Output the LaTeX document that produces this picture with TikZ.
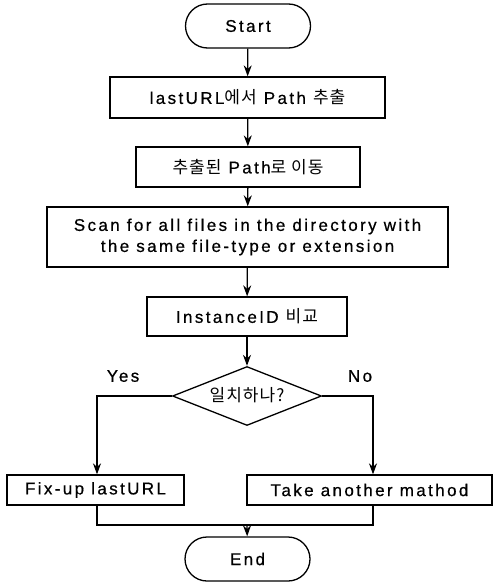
\documentclass[tikz,border=0pt]{standalone}
\usepackage{fontspec}
\setmainfont{Liberation Sans}[LetterSpace=14,FakeBold=0.6]
\newfontfamily\kr{Noto Sans CJK KR}[LetterSpace=6]
\usetikzlibrary{shapes.geometric,shapes.misc,arrows.meta}
\begin{document}
\begin{tikzpicture}[x=1pt,y=-1pt,
  line width=1.3pt,
  every node/.style={font=\fontsize{17}{21}\selectfont},
  box/.style={draw,rectangle,inner sep=0pt,align=center},
  term/.style={draw,rounded rectangle,inner sep=0pt,minimum width=125pt,minimum height=44pt},
  dec/.style={draw,diamond,inner sep=0pt,minimum width=149pt,minimum height=59pt,aspect=2.5},
  arr/.style={-{Stealth[length=11pt,width=8pt]}},
  lbl/.style={inner sep=0pt}]
\useasboundingbox (0,0) rectangle (493,583);
\node[term] (start) at (248,26) {Start};
\node[box,minimum width=275pt,minimum height=41pt] (b1) at (247.5,97.5) {lastURL{\kr 에서} Path {\kr 추출}};
\node[box,minimum width=224pt,minimum height=40pt] (b2) at (248,167) {{\kr 추출된} Path{\kr 로 이동}};
\node[box,minimum width=401pt,minimum height=60pt] (b3) at (247.5,237) {Scan for all files in the directory with\\the same file-type or extension};
\node[box,minimum width=200pt,minimum height=39pt] (b4) at (247,316.5) {InstanceID {\kr 비교}};
\node[dec] (d) at (247,396) {\raisebox{3pt}{\kr 일치하나?}};
\node[box,minimum width=177pt,minimum height=30pt] (b5) at (95.5,490) {Fix-up lastURL};
\node[box,minimum width=245pt,minimum height=30pt] (b6) at (369.5,490) {Take another mathod};
\node[term] (end) at (247.5,559) {End};
\node[lbl] (yes) at (123,376) {Yes};
\node[lbl] (no) at (360,376) {No};
\coordinate (m) at (247,525);
\draw[arr] (start) -- (b1);
\draw[arr] (b1) -- (b2);
\draw[arr] (b2) -- (b3);
\draw[arr] (b3) -- (b4);
\draw[arr] (b4) -- (d);
\draw[arr] (d.west) -| ([xshift=1.5pt]b5.north);
\draw[arr] (d.east) -| ([xshift=3.5pt]b6.north);
\draw ([xshift=1.5pt]b5.south) |- (m) -| ([xshift=3.5pt]b6.south);
\draw[arr] (m) -- (end);
\end{tikzpicture}
\end{document}
